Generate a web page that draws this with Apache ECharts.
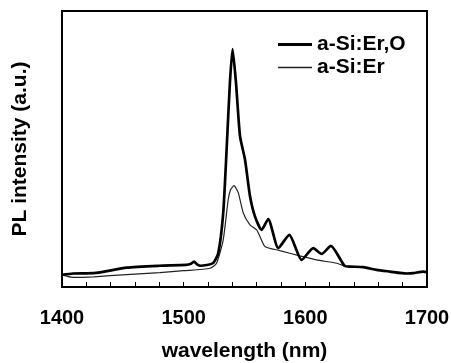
<!DOCTYPE html>
<html>
<head>
<meta charset="utf-8">
<script src="https://cdn.jsdelivr.net/npm/echarts@6/dist/echarts.min.js"></script>
<style>
  html, body { margin: 0; padding: 0; background: #fff; }
  #chart { width: 451px; height: 363px; }
</style>
</head>
<body>
<div id="chart"></div>
<script>
// a-Si:Er,O (thick line)
const erOWavelength = [1400, 1409, 1426, 1453, 1480, 1502, 1506, 1508.5, 1511, 1514, 1524, 1528.4, 1532.5, 1535.3, 1538, 1540.2, 1543, 1546.3, 1550.4, 1554.5, 1558.6, 1564, 1569.5, 1577.8, 1586.8, 1597, 1606.5, 1613.4, 1621, 1632.5, 1637, 1647.6, 1658.6, 1669.5, 1683, 1688.6, 1697, 1700];
const erOIntensity  = [4.4, 4.9, 5.0, 7.0, 7.7, 8.0, 8.4, 9.2, 8.2, 7.7, 8.6, 12.2, 26.8, 49.8, 74, 86.2, 74, 54.7, 46.2, 33, 25.6, 20.7, 24.6, 14.1, 18.9, 9.8, 14.1, 12.0, 14.9, 7.6, 7.4, 7.2, 6.2, 5.6, 4.9, 5.0, 5.6, 5.4];

// a-Si:Er (thin line)
const erWavelength = [1400, 1409, 1426, 1453, 1480.5, 1500, 1521.6, 1527, 1532.5, 1536.6, 1538.6, 1541.3, 1544.9, 1549, 1554.5, 1560, 1562.7, 1566.8, 1579, 1595.4, 1609, 1625.8, 1632.5, 1637, 1647.6, 1658.6, 1669.5, 1683, 1688.6, 1697, 1700];
const erIntensity  = [4.4, 3.5, 3.7, 4.5, 5.2, 5.9, 6.8, 8.6, 17.1, 31.6, 35.3, 36.7, 34.1, 26.8, 22.5, 20.7, 18.3, 14.7, 13.2, 11.3, 9.8, 8.6, 7.6, 7.4, 7.2, 6.2, 5.6, 4.9, 5.0, 5.6, 5.4];

const xTickLabels = [1400, 1500, 1600, 1700];
const seriesNames = ["a-Si:Er,O", "a-Si:Er"];

const font = "Arial, 'Liberation Sans', Helvetica, sans-serif";

const chart = echarts.init(document.getElementById("chart"), null, { renderer: "canvas" });

chart.setOption({
  animation: false,
  backgroundColor: "#fff",
  grid: {
    left: 62, right: 24, top: 11, bottom: 76,
    outerBoundsMode: "none",
    show: true, borderColor: "#000", borderWidth: 2
  },
  legend: {
    data: [
      { name: seriesNames[0], icon: "path://M0,0H34V3H0Z" },
      { name: seriesNames[1], icon: "path://M0,0H34V1.3H0Z" }
    ],
    orient: "vertical",
    left: 273,
    top: 29,
    itemWidth: 34,
    itemHeight: 14,
    itemGap: 2,
    textStyle: { fontFamily: font, fontWeight: "bold", fontSize: 21, lineHeight: 21, color: "#000" }
  },
  xAxis: {
    type: "value",
    min: 1400,
    max: 1700,
    interval: 20,
    name: "wavelength (nm)",
    nameLocation: "middle",
    nameGap: 54,
    nameTextStyle: { fontFamily: font, fontWeight: "bold", fontSize: 21, color: "#000" },
    axisLine: { show: true, lineStyle: { color: "#000", width: 2 } },
    axisTick: { show: true, inside: true, length: 5, lineStyle: { color: "#000", width: 1 } },
    axisLabel: {
      margin: 21,
      fontFamily: font, fontWeight: "bold", fontSize: 20, color: "#000",
      formatter: v => (xTickLabels.includes(v) ? String(v) : "")
    },
    splitLine: { show: false }
  },
  yAxis: {
    type: "value",
    min: 0,
    max: 100,
    name: "PL intensity (a.u.)",
    nameLocation: "middle",
    nameRotate: 90,
    nameGap: 31,
    nameTextStyle: { fontFamily: font, fontWeight: "bold", fontSize: 21, color: "#000" },
    axisLine: { show: true, lineStyle: { color: "#000", width: 2 } },
    axisTick: { show: false },
    axisLabel: { show: false },
    splitLine: { show: false }
  },
  series: [
    {
      name: seriesNames[0],
      type: "line",
      symbol: "none",
      smooth: 0.2,
      data: erOWavelength.map((w, i) => [w, erOIntensity[i]]),
      lineStyle: { color: "#000", width: 2.7 },
      itemStyle: { color: "#000" },
      z: 3
    },
    {
      name: seriesNames[1],
      type: "line",
      symbol: "none",
      smooth: 0.2,
      data: erWavelength.map((w, i) => [w, erIntensity[i]]),
      lineStyle: { color: "#222", width: 1.2 },
      itemStyle: { color: "#222" },
      z: 2
    }
  ]
});
</script>
</body>
</html>
